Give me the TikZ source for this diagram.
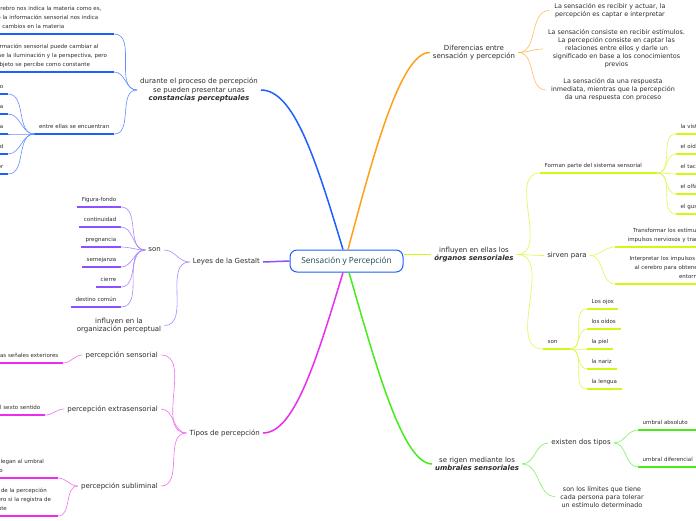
\documentclass[tikz,border=0pt]{standalone}
\usepackage{fontspec}
\setmainfont{DejaVu Sans}
\newfontfamily\titlefont{Open Sans}
\usetikzlibrary{positioning}
\newcommand{\keyterm}[1]{\textbf{\textit{#1}}}
\definecolor{inkgray}{RGB}{45,45,45}
\definecolor{titleink}{RGB}{25,70,80}
\definecolor{mapblue}{RGB}{30,95,255}
\definecolor{mappurple}{RGB}{140,80,255}
\definecolor{mapmagenta}{RGB}{235,45,240}
\definecolor{maporange}{RGB}{255,160,25}
\definecolor{mapyellow}{RGB}{205,250,20}
\definecolor{mapgreen}{RGB}{70,235,25}

\begin{document}
\begin{tikzpicture}[x=1pt,y=-1pt,
  topic/.style={font=\fontsize{7}{8.7}\selectfont,text=inkgray,align=center,inner xsep=3pt,inner ysep=1pt},
  note/.style={font=\fontsize{6.4}{8}\selectfont,text=inkgray,align=center,inner xsep=5pt,inner ysep=1pt},
  leaf/.style={font=\fontsize{5.5}{8.7}\selectfont,text=inkgray,inner xsep=4.5pt,inner ysep=4.5pt,
    execute at end node={\vphantom{g}},
    append after command={(\tikzlastnode.south west) edge[draw=#1,line width=1.6pt] (\tikzlastnode.south east)}},
  branch/.style={line width=1.5pt},
  twig/.style={line width=0.6pt}]
  \fill[white] (0,0) rectangle (696,520);
  \useasboundingbox (0,0) rectangle (696,520);
  \clip (0,0) rectangle (696,520);

  \node[draw=mapblue,line width=1pt,rounded corners=7pt,fill=white,minimum width=113pt,minimum height=22pt,
    font=\titlefont\fontsize{8.3}{10}\selectfont,text=titleink] (cen) at (346.5,261) {Sensación y Percepción};

  % constancias
  \node[topic] (const) at (199,90) {durante el proceso de percepción\\ se pueden presentar unas\\ \keyterm{constancias perceptuales}};
  \node[leaf=mapblue,text width=152pt,align=center,anchor=south east] (cA) at (114,34)
    {cuando el cerebro nos indica la materia como es,\\ aun cuando la información sensorial nos indica\\ cambios en la materia};
  \node[leaf=mapblue,text width=139pt,align=center,anchor=south east] (cB) at (114,72)
    {La información sensorial puede cambiar al\\ modificarse la iluminación y la perspectiva, pero\\ el objeto se percibe como constante};
  \node[leaf=mapblue,anchor=south east] (entre) at (114,134) {entre ellas se encuentran};
  \node[leaf=mapblue,anchor=south east] (tam) at (8,94) {tamaño};
  \node[leaf=mapblue,anchor=south east] (forma) at (8,114) {forma};
  \node[leaf=mapblue,anchor=south east] (textu) at (8,134) {textura};
  \node[leaf=mapblue,anchor=south east] (lumi) at (8,154) {luminosidad};
  \node[leaf=mapblue,anchor=south east] (color) at (8,174) {color};
  \draw[mapblue,branch] ([xshift=-3.5pt]cen.north) .. controls (316,160) and (294,90) .. (const.east);
  \draw[mapblue!70,twig] (const.west) to[out=180,in=0] (cA.south east);
  \draw[mapblue!70,twig] (const.west) to[out=180,in=0] (cB.south east);
  \draw[mapblue!70,twig] (const.west) to[out=180,in=0] (entre.south east);
  \draw[mapblue!70,twig] (entre.south west) to[out=180,in=0] (tam.south east);
  \draw[mapblue!70,twig] (entre.south west) to[out=180,in=0] (forma.south east);
  \draw[mapblue!70,twig] (entre.south west) to[out=180,in=0] (textu.south east);
  \draw[mapblue!70,twig] (entre.south west) to[out=180,in=0] (lumi.south east);
  \draw[mapblue!70,twig] (entre.south west) to[out=180,in=0] (color.south east);

  % gestalt
  \node[topic,anchor=east] (gest) at (263,262) {Leyes de la Gestalt};
  \node[topic,anchor=east] (sonG) at (164,250) {son};
  \node[topic] (infl) at (119,325.5) {influyen en la\\ organización perceptual};
  \node[leaf=mappurple,anchor=south east] (fig) at (121,207) {Figura-fondo};
  \node[leaf=mappurple,anchor=south east] (cont) at (121,227) {continuidad};
  \node[leaf=mappurple,anchor=south east] (preg) at (121,247) {pregnancia};
  \node[leaf=mappurple,anchor=south east] (seme) at (121,267) {semejanza};
  \node[leaf=mappurple,anchor=south east] (cierre) at (121,287) {cierre};
  \node[leaf=mappurple,anchor=south east] (dest) at (121,307) {destino común};
  \draw[mappurple,branch] (cen.west) -- (gest.east);
  \draw[mappurple!70,twig] (gest.west) to[out=180,in=0] (sonG.east);
  \draw[mappurple!70,twig] (gest.west) to[out=180,in=0] (infl.east);
  \draw[mappurple!70,twig] (sonG.west) to[out=180,in=0] (fig.south east);
  \draw[mappurple!70,twig] (sonG.west) to[out=180,in=0] (cont.south east);
  \draw[mappurple!70,twig] (sonG.west) to[out=180,in=0] (preg.south east);
  \draw[mappurple!70,twig] (sonG.west) to[out=180,in=0] (seme.south east);
  \draw[mappurple!70,twig] (sonG.west) to[out=180,in=0] (cierre.south east);
  \draw[mappurple!70,twig] (sonG.west) to[out=180,in=0] (dest.south east);

  % tipos
  \node[topic,anchor=east] (tipos) at (263,433) {Tipos de percepción};
  \node[topic,anchor=east] (psens) at (161,355) {percepción sensorial};
  \node[topic,anchor=east] (pextra) at (161,409) {percepción extrasensorial};
  \node[topic,anchor=east] (psub) at (161,486) {percepción subliminal};
  \node[leaf=mapmagenta,anchor=south east] (exter) at (63,363) {Es la que recibe las señales exteriores};
  \node[leaf=mapmagenta,anchor=south east] (sexto) at (45,415) {Es el sexto sentido};
  \node[leaf=mapmagenta,text width=125pt,align=center,anchor=south east] (umbral) at (58,478)
    {Son estímulos que no llegan al umbral\\ absoluto};
  \node[leaf=mapmagenta,text width=130.5pt,align=center,anchor=south east] (latente) at (58,516)
    {El sujeto no se da cuenta de la percepción\\ consciente del estímulo, pero si la registra de\\ forma latente};
  \draw[mapmagenta,branch] ([xshift=-3.5pt]cen.south) .. controls (316,362) and (294,433) .. (tipos.east);
  \draw[mapmagenta!70,twig] (tipos.west) to[out=180,in=0] (psens.east);
  \draw[mapmagenta!70,twig] (tipos.west) to[out=180,in=0] (pextra.east);
  \draw[mapmagenta!70,twig] (tipos.west) to[out=180,in=0] (psub.east);
  \draw[mapmagenta!70,twig] (psens.west) to[out=180,in=0] (exter.south east);
  \draw[mapmagenta!70,twig] (pextra.west) to[out=180,in=0] (sexto.south east);
  \draw[mapmagenta!70,twig] (psub.west) to[out=180,in=0] (umbral.south east);
  \draw[mapmagenta!70,twig] (psub.west) to[out=180,in=0] (latente.south east);

  % diferencias
  \node[topic] (diffs) at (474,52.5) {Diferencias entre\\ sensación y percepción};
  \node[note] (s1) at (610,10.5) {La sensación es recibir y actuar, la\\ percepción es captar e interpretar};
  \node[note] (s2) at (616.5,49) {La sensación consiste en recibir estímulos.\\ La percepción consiste en captar las\\ relaciones entre ellos y darle un\\ significado en base a los conocimientos\\ previos};
  \node[note] (s3) at (613,90) {La sensación da una respuesta\\ inmediata, mientras que la percepción\\ da una respuesta con proceso};
  \draw[maporange,branch] ([xshift=1.5pt]cen.north) .. controls (372,160) and (400,52) .. (diffs.west);
  \draw[maporange!70,twig] (diffs.east) to[out=0,in=180] (s1.west);
  \draw[maporange!70,twig] (diffs.east) to[out=0,in=180] (s2.west);
  \draw[maporange!70,twig] (diffs.east) to[out=0,in=180] (s3.west);

  % organos
  \node[topic] (org) at (474,254.5) {influyen en ellas los\\ \keyterm{órganos sensoriales}};
  \node[leaf=mapyellow,text width=108pt,align=left,anchor=south west] (forman) at (540,173) {Forman parte del sistema sensorial};
  \node[leaf=mapyellow,anchor=south west] (vista) at (676,134) {la vista};
  \node[leaf=mapyellow,anchor=south west] (oido) at (676,154) {el oído};
  \node[leaf=mapyellow,anchor=south west] (tacto) at (676,174) {el tacto};
  \node[leaf=mapyellow,anchor=south west] (olfato) at (676,194) {el olfato};
  \node[leaf=mapyellow,anchor=south west] (gusto) at (676,214) {el gusto};
  \node[topic] (sirven) at (567,255.5) {sirven para};
  \node[leaf=mapyellow,text width=140pt,align=center,anchor=south west] (transf) at (615,247)
    {Transformar los estímulos del exterior en\\ impulsos nerviosos y transmitirlos al cerebro};
  \node[leaf=mapyellow,text width=140pt,align=center,anchor=south west] (interp) at (615,284)
    {Interpretar los impulsos nerviosos enviados\\ al cerebro para obtener información del\\ entorno};
  \node[leaf=mapyellow,text width=18pt,align=left,anchor=south west] (sonO) at (543,349) {son};
  \node[leaf=mapyellow,anchor=south west] (ojos) at (587,309) {Los ojos};
  \node[leaf=mapyellow,anchor=south west] (oidos) at (587,329) {los oídos};
  \node[leaf=mapyellow,anchor=south west] (piel) at (587,349) {la piel};
  \node[leaf=mapyellow,anchor=south west] (nariz) at (587,369) {la nariz};
  \node[leaf=mapyellow,anchor=south west] (lengua) at (587,389) {la lengua};
  \draw[mapyellow,branch] (cen.east |- org.west) -- (org.west);
  \draw[mapyellow!75,twig] (org.east) to[out=0,in=180] (forman.south west);
  \draw[mapyellow!75,twig] (org.east) to[out=0,in=180] (sirven.west);
  \draw[mapyellow!75,twig] (org.east) to[out=0,in=180] (sonO.south west);
  \draw[mapyellow!75,twig] (forman.south east) to[out=0,in=180] (vista.south west);
  \draw[mapyellow!75,twig] (forman.south east) to[out=0,in=180] (oido.south west);
  \draw[mapyellow!75,twig] (forman.south east) to[out=0,in=180] (tacto.south west);
  \draw[mapyellow!75,twig] (forman.south east) to[out=0,in=180] (olfato.south west);
  \draw[mapyellow!75,twig] (forman.south east) to[out=0,in=180] (gusto.south west);
  \draw[mapyellow!75,twig] (sirven.east) to[out=0,in=180] (transf.south west);
  \draw[mapyellow!75,twig] (sirven.east) to[out=0,in=180] (interp.south west);
  \draw[mapyellow!75,twig] (sonO.south east) to[out=0,in=180] (ojos.south west);
  \draw[mapyellow!75,twig] (sonO.south east) to[out=0,in=180] (oidos.south west);
  \draw[mapyellow!75,twig] (sonO.south east) to[out=0,in=180] (piel.south west);
  \draw[mapyellow!75,twig] (sonO.south east) to[out=0,in=180] (nariz.south west);
  \draw[mapyellow!75,twig] (sonO.south east) to[out=0,in=180] (lengua.south west);

  % umbrales
  \node[topic] (umb) at (477,464) {se rigen mediante los\\ \keyterm{umbrales sensoriales}};
  \node[topic] (dostipos) at (581,443) {existen dos tipos};
  \node[leaf=mapgreen,text width=52pt,align=left,anchor=south west] (abso) at (638,430) {umbral absoluto};
  \node[leaf=mapgreen,text width=52pt,align=left,anchor=south west] (difer) at (638,467) {umbral diferencial};
  \node[note] (lim) at (602,496.5) {son los límites que tiene\\ cada persona para tolerar\\ un estímulo determinado};
  \draw[mapgreen,branch] ([xshift=2.5pt]cen.south) .. controls (375,362) and (402,463) .. (umb.west);
  \draw[mapgreen!70,twig] (umb.east) to[out=0,in=180] (dostipos.west);
  \draw[mapgreen!70,twig] (umb.east) to[out=0,in=180] (lim.west);
  \draw[mapgreen!70,twig] (dostipos.east) to[out=0,in=180] (abso.south west);
  \draw[mapgreen!70,twig] (dostipos.east) to[out=0,in=180] (difer.south west);
\end{tikzpicture}
\end{document}
